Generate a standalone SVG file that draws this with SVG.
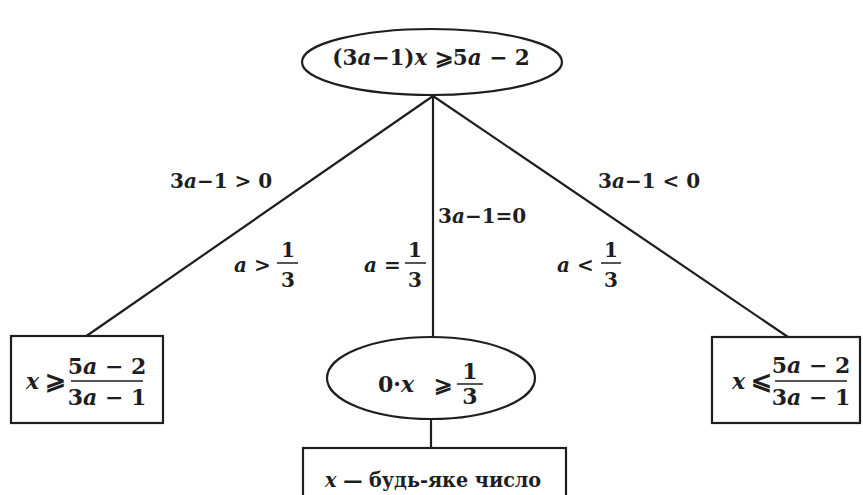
<svg xmlns="http://www.w3.org/2000/svg" width="863" height="495" viewBox="0 0 863 495">
<style>
.t{font-family:"DejaVu Serif","Liberation Serif",serif;font-weight:bold;fill:#1e1e1e;font-size:20px}
.b{font-size:22px}
.i{font-style:italic}
.s{fill:#fff;stroke:#1e1e1e;stroke-width:2.2}
.c{stroke:#1e1e1e;stroke-width:2.2;fill:none}
.bar{stroke:#1e1e1e;stroke-width:1.5}
.m{text-anchor:middle}
</style>
<rect width="863" height="495" fill="#fff"/>
<g id="connectors">
<line class="c" x1="433" y1="96" x2="85" y2="337"/>
<line class="c" x1="433" y1="96" x2="433" y2="337"/>
<line class="c" x1="433" y1="96" x2="788" y2="337"/>
<line class="c" x1="431" y1="419" x2="431" y2="448"/>
</g>
<g id="root">
<ellipse class="s" cx="432" cy="62" rx="130" ry="33"/>
<text class="t m" x="431" y="65" style="font-size:21.5px">(3<tspan class="i">a</tspan>−1)<tspan class="i">x</tspan> ⩾5<tspan class="i">a</tspan> − 2</text>
</g>
<g id="labels">
<text class="t" x="170" y="188">3<tspan class="i">a</tspan>−1 &gt; 0</text>
<text class="t" x="234" y="272"><tspan class="i">a</tspan> &gt;</text>
<text class="t m" x="288" y="257">1</text>
<line class="bar" x1="277" y1="263" x2="298" y2="263"/>
<text class="t m" x="288" y="287">3</text>
<text class="t" x="364" y="272"><tspan class="i">a</tspan> =</text>
<text class="t m" x="415" y="257">1</text>
<line class="bar" x1="405" y1="263" x2="426" y2="263"/>
<text class="t m" x="415" y="287">3</text>
<text class="t" x="438" y="223">3<tspan class="i">a</tspan>−1=0</text>
<text class="t" x="598" y="188">3<tspan class="i">a</tspan>−1 &lt; 0</text>
<text class="t" x="557" y="272"><tspan class="i">a</tspan> &lt;</text>
<text class="t m" x="611" y="257">1</text>
<line class="bar" x1="601" y1="263" x2="621" y2="263"/>
<text class="t m" x="611" y="287">3</text>
</g>
<g id="left">
<rect class="s" x="11" y="336" width="152" height="87"/>
<text class="t b" x="26" y="389"><tspan class="i">x</tspan></text>
<text class="t b" x="45" y="389" style="font-size:25px">⩾</text>
<text class="t b m" x="107" y="374">5<tspan class="i">a</tspan> − 2</text>
<line class="bar" x1="71" y1="381" x2="143" y2="381"/>
<text class="t b m" x="107" y="405">3<tspan class="i">a</tspan> − 1</text>
</g>
<g id="right">
<rect class="s" x="712" y="337" width="148" height="86"/>
<text class="t b" x="732" y="389"><tspan class="i">x</tspan></text>
<text class="t b" x="751" y="389" style="font-size:25px">⩽</text>
<text class="t b m" x="811" y="373">5<tspan class="i">a</tspan> − 2</text>
<line class="bar" x1="775" y1="381" x2="847" y2="381"/>
<text class="t b m" x="811" y="405">3<tspan class="i">a</tspan> − 1</text>
</g>
<g id="middle">
<ellipse class="s" cx="431" cy="378" rx="104" ry="41"/>
<text class="t b" x="378" y="392">0·<tspan class="i">x</tspan></text>
<text class="t b" x="434" y="392">⩾</text>
<text class="t b m" x="470" y="379">1</text>
<line class="bar" x1="457" y1="384" x2="483" y2="384"/>
<text class="t b m" x="470" y="404">3</text>
</g>
<g id="bottom">
<rect class="s" x="303" y="448" width="263" height="60"/>
<text class="t" transform="translate(325,487) scale(0.915,1)" x="0" y="0" style="font-size:21px"><tspan class="i">x</tspan> — будь-яке число</text>
</g>
</svg>
